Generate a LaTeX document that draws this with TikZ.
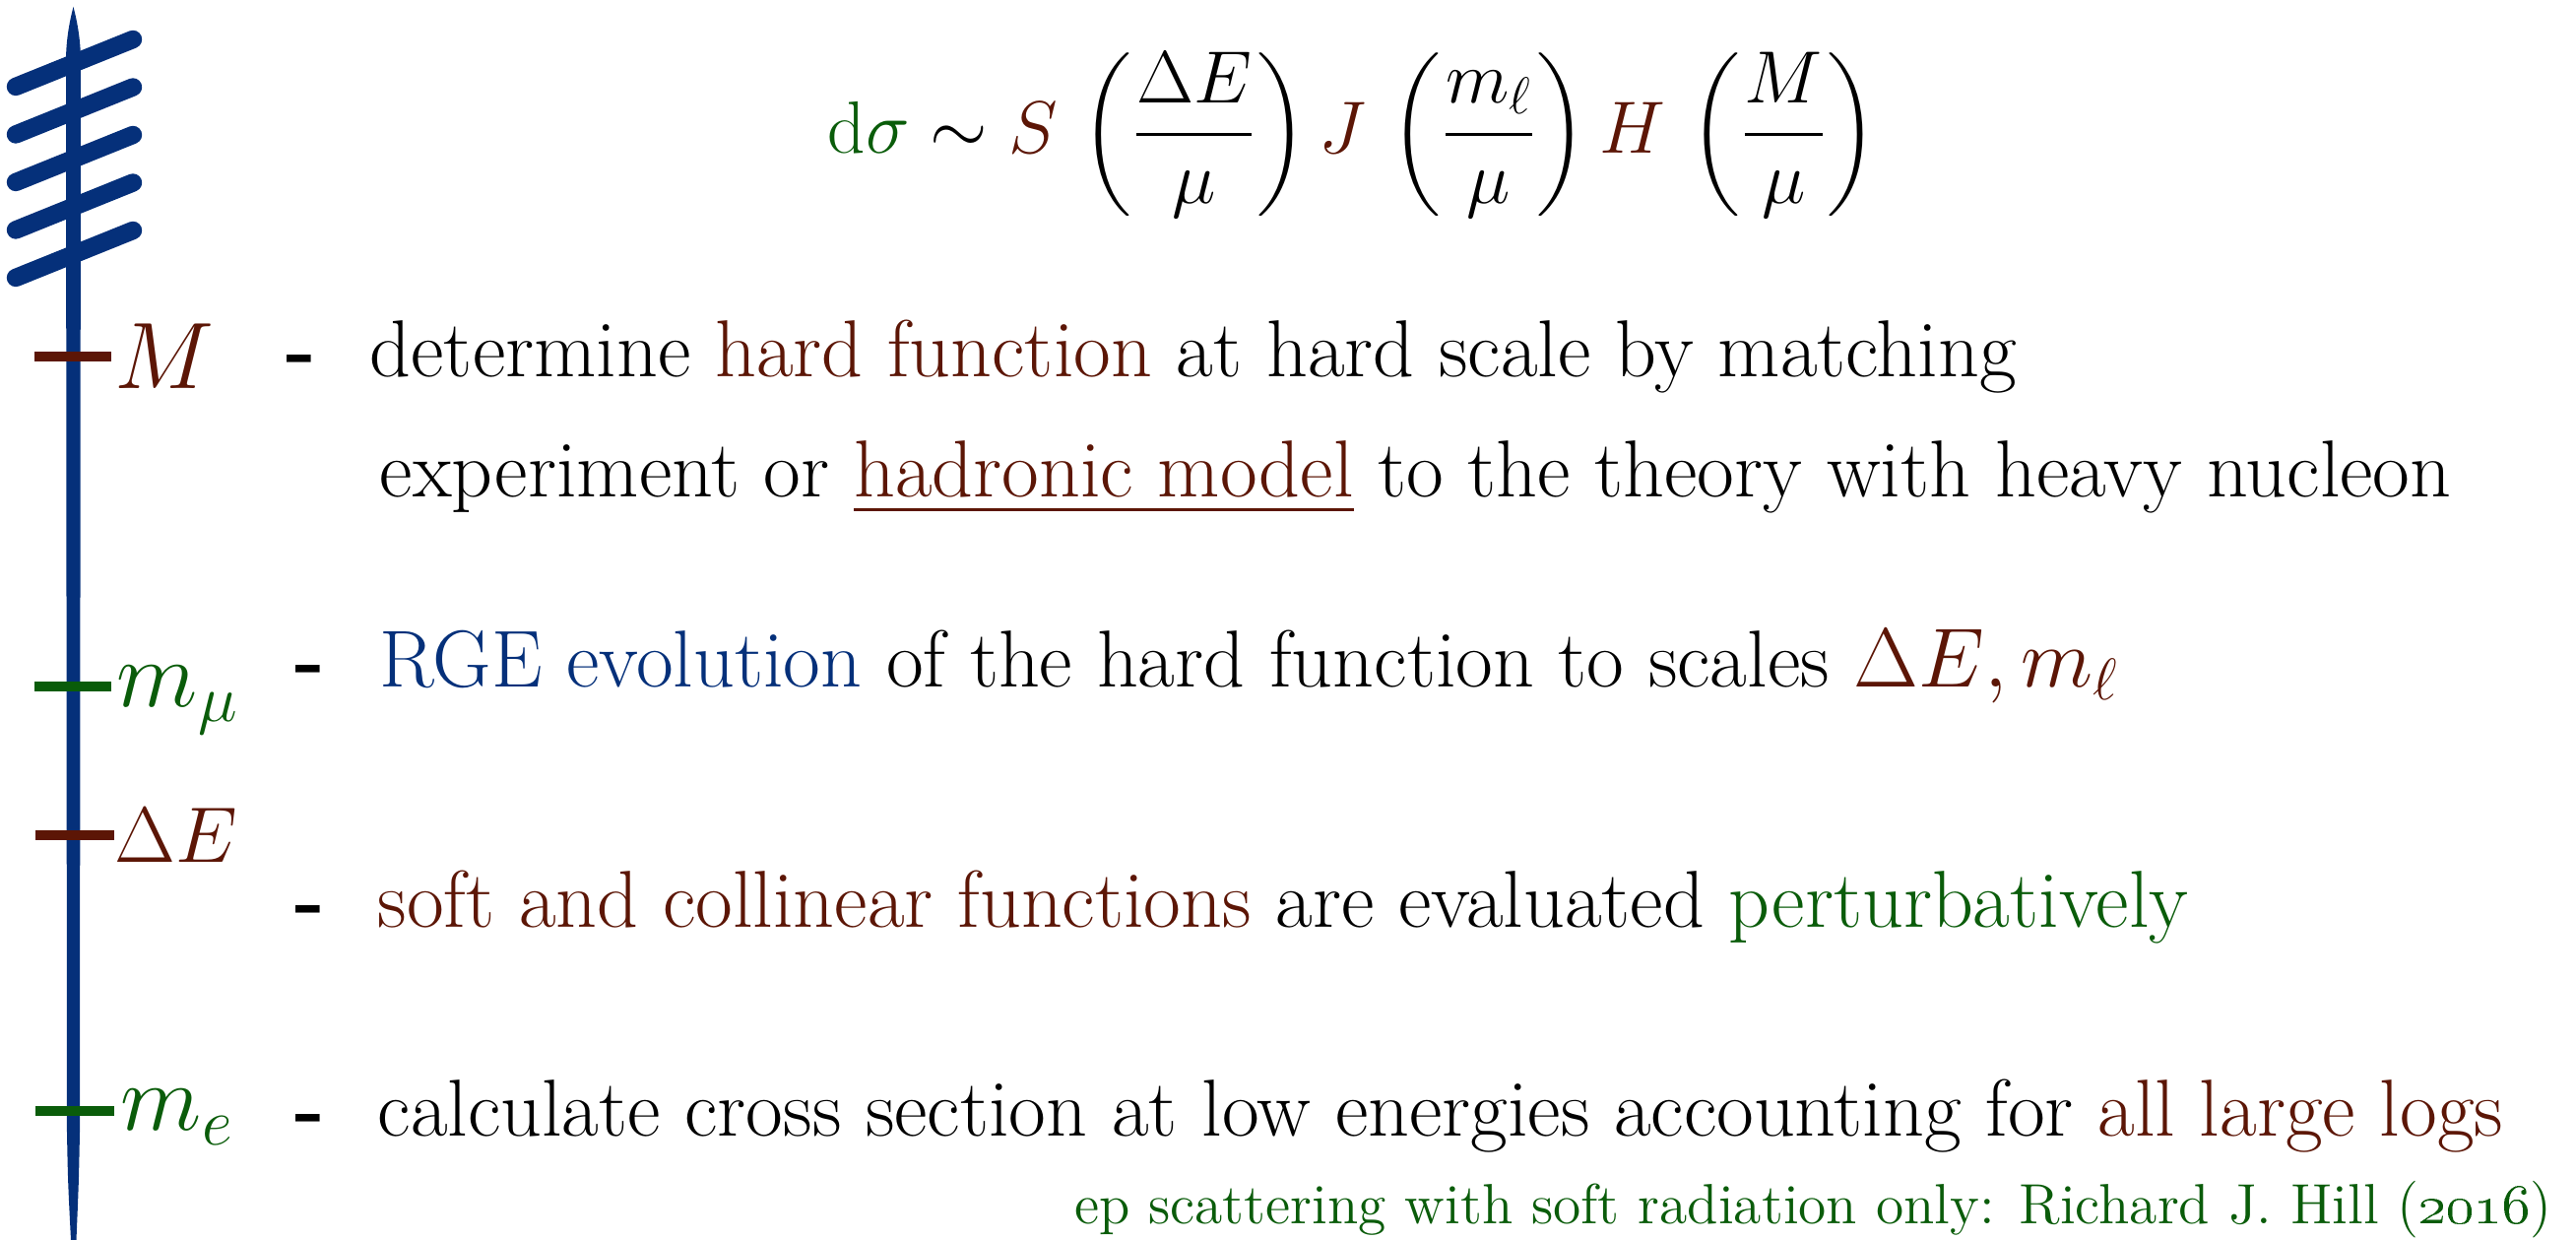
\RequirePackage{fix-cm}
\documentclass[tikz,border=0pt]{standalone}
\usepackage{amsmath}
\usepackage{xcolor}
\usetikzlibrary{positioning}
\definecolor{hardred}{HTML}{5C1606}
\definecolor{lowgreen}{HTML}{0A5C0A}
\definecolor{scaleblue}{HTML}{05307A}
\tikzset{
  txt/.style={anchor=base west,inner sep=0pt,font=\fontsize{20.5}{24}\selectfont},
  dashmark/.style={txt,font=\fontsize{20.5}{24}\selectfont\bfseries},
  lab/.style={anchor=base west,inner sep=0pt,font=\fontsize{24}{28}\selectfont},
  tickmark/.style={line width=2.5pt},
  hatch/.style={draw=scaleblue,line width=4.6pt,line cap=round},
  cite/.style={anchor=base east,inner sep=0pt,font=\fontsize{14.4}{17}\selectfont,text=lowgreen},
}
\begin{document}
\begin{tikzpicture}[x=0.25pt,y=-0.25pt]
  \useasboundingbox (0,0) rectangle (2616,1259);
  % scale axis, brush stroke
  \foreach \k in {0,...,4}
    \draw[hatch] (16,{88+48.5*\k}) -- (135,{40+48.5*\k});
  \fill[scaleblue] (74.5,7) .. controls (78,20) and (82,40) .. (82,62)
    -- (81,1150) .. controls (80,1200) .. (77.5,1259) -- (72,1259)
    .. controls (69,1200) .. (68,1150) -- (67,62)
    .. controls (67,40) and (71,20) .. (74.5,7);
  % scales
  \draw[tickmark,hardred]  (35,362) -- (113,362);
  \draw[tickmark,lowgreen] (35,697) -- (113,697);
  \draw[tickmark,hardred]  (36,848) -- (116,848);
  \draw[tickmark,lowgreen] (36,1128) -- (116,1128);
  \node[lab,text=hardred]  (labM)  at (116,395) {$M$};
  \node[lab,text=lowgreen] (labmu) at (118,718) {$m_\mu$};
  \node[lab,text=hardred,font=\fontsize{20}{24}\selectfont] (labdE) at (116,876) {$\Delta E$};
  \node[lab,text=lowgreen] (labme) at (122,1148) {$m_e$};
  % factorisation formula
  \node[anchor=west,inner sep=0pt,font=\fontsize{18.8}{22}\selectfont] (formula) at (840,137)
    {$\displaystyle \textcolor{lowgreen}{\mathrm{d}\sigma}\sim
      \textcolor{hardred}{S}\,\left(\frac{\Delta E}{\mu}\right)
      \textcolor{hardred}{J}\,\left(\frac{m_\ell}{\mu}\right)
      \textcolor{hardred}{H}\,\left(\frac{M}{\mu}\right)$};
  % steps
  \node[dashmark] (dashM)  at (290,383)  {-};
  \node[txt] (stepM) at (375,383)
    {determine \textcolor{hardred}{hard function} at hard scale by matching};
  \node[txt] (stepMb) at (385,505)
    {experiment or \textcolor{hardred}{\underline{hadronic model}} to the theory with heavy nucleon};
  \node[dashmark] (dashmu) at (299,698)  {-};
  \node[txt] (stepmu) at (385,698)
    {\textcolor{scaleblue}{RGE evolution} of the hard function to scales\
     \textcolor{hardred}{\fontsize{21.3}{24}\selectfont$\Delta E, m_\ell$}};
  \node[dashmark] (dashdE) at (299,942)  {-};
  \node[txt] (stepdE) at (383,942)
    {\textcolor{hardred}{soft and collinear functions} are evaluated \textcolor{lowgreen}{perturbatively}};
  \node[dashmark] (dashme) at (299,1154) {-};
  \node[txt] (stepme) at (383,1154)
    {calculate cross section at low energies accounting for \textcolor{hardred}{all large logs}};
  \node[cite] (source) at (2592,1243)
    {ep scattering with soft radiation only: Richard J. Hill (\oldstylenums{2016})};
\end{tikzpicture}
\end{document}
